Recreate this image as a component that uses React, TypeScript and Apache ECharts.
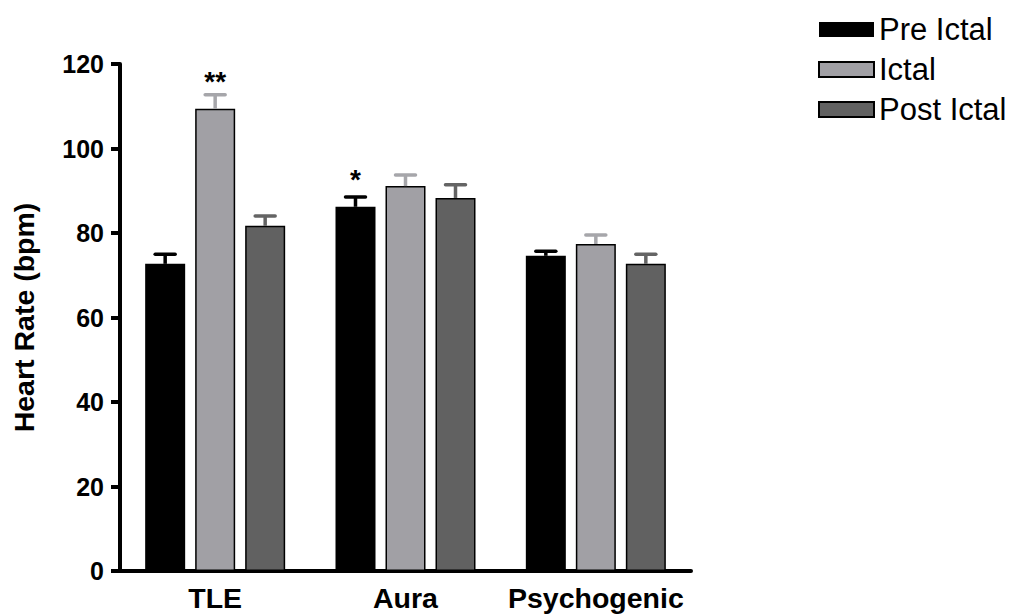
import React, { useEffect, useRef } from "react";
import * as echarts from "echarts";

const categories = ["TLE", "Aura", "Psychogenic"];
const seriesNames = ["Pre Ictal", "Ictal", "Post Ictal"];
const preIctal = [72.7, 86.2, 74.6];
const preIctalSem = [2.3, 2.3, 1.1];
const ictal = [109.4, 91.1, 77.4];
const ictalSem = [3.3, 2.6, 2.1];
const postIctal = [81.7, 88.3, 72.7];
const postIctalSem = [2.3, 3.1, 2.3];
const preIctalSig = ["", "*", ""];
const ictalSig = ["**", "", ""];
const postIctalSig = ["", "", ""];
const yTicks = [0, 20, 40, 60, 80, 100, 120];

const FONT = 'Arial, "Liberation Sans", Helvetica, sans-serif';
const colors = ["#000000", "#a1a0a5", "#616161"];
const errColors = ["#000000", "#a6a6aa", "#646464"];
const BAR_W = 40;
const BAR_STEP = 50;

export default function App() {
  const ref = useRef<HTMLDivElement>(null);
  useEffect(() => {
    if (!ref.current) return;
    const chart = echarts.init(ref.current, null, { renderer: "svg" });
    const means = [preIctal, ictal, postIctal];
    const sems = [preIctalSem, ictalSem, postIctalSem];
    const sigs = [preIctalSig, ictalSig, postIctalSig];

    const barSeries = means.map((vals, s) => ({
      name: seriesNames[s],
      type: "bar",
      barWidth: BAR_W,
      barGap: "25%",
      itemStyle: {
        color: colors[s],
        borderColor: "#000",
        borderWidth: s === 0 ? 0 : 1.5,
      },
      data: vals.map((v, i) => ({
        value: v,
        label: sigs[s][i]
          ? {
              show: true,
              formatter: sigs[s][i],
              position: "top",
              distance: 13,
              fontSize: 28,
              fontWeight: "bold",
              fontFamily: FONT,
              color: "#000",
            }
          : { show: false },
      })),
      z: 2,
    }));

    const errSeries = means.map((vals, s) => ({
      name: seriesNames[s] + " SEM",
      type: "custom",
      z: 3,
      data: vals.map((v, i) => [i, v, sems[s][i]]),
      renderItem: (params: any, api: any) => {
        const idx = api.value(0);
        const m = api.value(1);
        const e = api.value(2);
        const base = api.coord([idx, m]);
        const top = api.coord([idx, m + e]);
        const off = (s - 1) * BAR_STEP;
        const x = base[0] + off;
        const style = {
          stroke: errColors[s],
          lineWidth: 3.5,
          lineCap: "round",
        };
        return {
          type: "group",
          children: [
            {
              type: "line",
              shape: { x1: x, y1: base[1], x2: x, y2: top[1] },
              style: { ...style, lineCap: "butt" },
            },
            {
              type: "line",
              shape: { x1: x - 10, y1: top[1], x2: x + 10, y2: top[1] },
              style,
            },
          ],
        };
      },
    }));

    chart.setOption({
      animation: false,
      backgroundColor: "#fff",
      grid: { left: 120, top: 64, width: 571, height: 507, containLabel: false },
      legend: {
        orient: "vertical",
        left: 813,
        top: 9,
        data: seriesNames,
        itemWidth: 55,
        itemHeight: 15,
        itemGap: 9,
        icon: "rect",
        textStyle: {
          fontSize: 31,
          fontFamily: FONT,
          color: "#000",
        },
        selectedMode: false,
      },
      xAxis: {
        type: "category",
        data: categories,
        axisLine: { lineStyle: { color: "#000", width: 4 } },
        axisTick: { show: false },
        axisLabel: {
          interval: 0,
          fontSize: 28.5,
          fontWeight: "bold",
          fontFamily: FONT,
          color: "#000",
          margin: 12,
        },
      },
      yAxis: {
        type: "value",
        min: 0,
        max: 120,
        interval: 20,
        name: "Heart Rate (bpm)",
        nameLocation: "middle",
        nameGap: 82,
        nameTextStyle: {
          fontSize: 28.5,
          fontWeight: "bold",
          fontFamily: FONT,
          color: "#000",
        },
        axisLine: { show: true, lineStyle: { color: "#000", width: 4 } },
        axisTick: { show: true, length: 9, lineStyle: { color: "#000", width: 4 } },
        axisLabel: {
          fontSize: 25,
          fontWeight: "bold",
          fontFamily: FONT,
          color: "#000",
          margin: 16,
          formatter: (v: number) => (yTicks.includes(v) ? String(v) : ""),
        },
        splitLine: { show: false },
      },
      series: [...barSeries, ...errSeries],
    });
    return () => chart.dispose();
  }, []);
  return (
    <div
      ref={ref}
      style={{ position: "fixed", left: 0, top: 0, width: 1010, height: 614 }}
    />
  );
}
